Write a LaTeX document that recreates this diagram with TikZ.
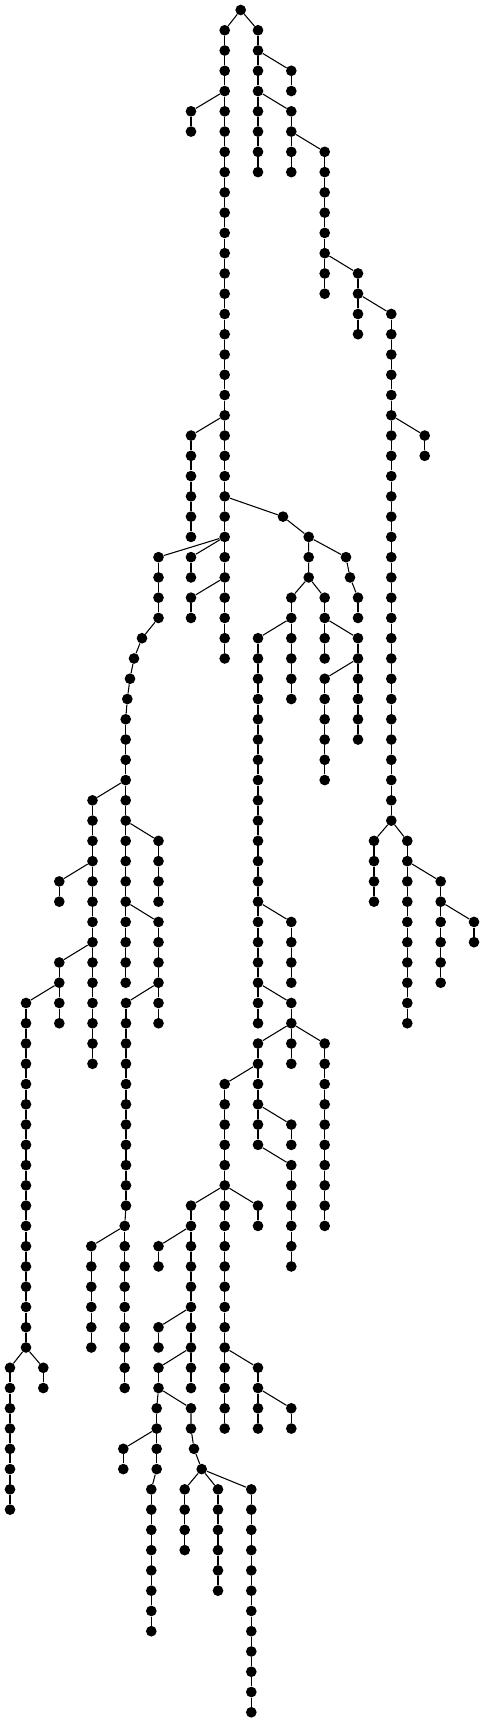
\documentclass[tikz,border=0pt]{standalone}
\usepackage{xcolor}
\usepackage{tikz}

\tikzset{
  tnode/.style={circle,fill=black,inner sep=0pt,minimum size=8pt},
  tedge/.style={line width=0.8pt}
}
% row number -> y
\newcommand{\ry}[1]{10+20.265*#1}
% vertical run of nodes #1-#3 ... #1-#4 at x=#2
\newcommand{\tchain}[4]{%
  \foreach \r in {#3,...,#4}{\node[tnode] (#1-\r) at (#2,{\ry{\r}}) {};}
  \foreach \r in {#3,...,#4}{\ifnum\r>#3\relax\pgfmathtruncatemacro{\q}{\r-1}\draw[tedge] (#1-\q) -- (#1-\r);\fi}
}

\begin{document}
\begin{tikzpicture}[x=0.75pt,y=0.75pt,yscale=-1,xscale=1]
\useasboundingbox (0,0) rectangle (484,1723);

%Root
\node[tnode] (root) at (240.7,10) {};

%Main stem
\tchain{m}{224.7}{1}{32}
\draw[tedge] (root) -- (m-1);
\tchain{la}{191}{5}{6}
\draw[tedge] (m-4) -- (la-5);
\tchain{lb}{191}{21}{26}
\draw[tedge] (m-20) -- (lb-21);
\tchain{lc}{191}{27}{28}
\draw[tedge] (m-26) -- (lc-27);
\tchain{ld}{191}{29}{30}
\draw[tedge] (m-28) -- (ld-29);

%Right stem
\tchain{ta}{258}{1}{8}
\draw[tedge] (root) -- (ta-1);
\tchain{tb}{291.3}{3}{4}
\draw[tedge] (ta-2) -- (tb-3);
\tchain{tc}{291.3}{5}{8}
\draw[tedge] (ta-4) -- (tc-5);
\tchain{td}{324.7}{7}{14}
\draw[tedge] (tc-6) -- (td-7);
\tchain{te}{358}{13}{16}
\draw[tedge] (td-12) -- (te-13);
\tchain{tf}{391.3}{15}{40}
\draw[tedge] (te-14) -- (tf-15);
\tchain{tg}{424.7}{21}{22}
\draw[tedge] (tf-20) -- (tg-21);
\tchain{th}{374}{41}{44}
\draw[tedge] (tf-40) -- (th-41);
\tchain{ti}{407.3}{41}{50}
\draw[tedge] (tf-40) -- (ti-41);
\tchain{tj}{440.7}{43}{48}
\draw[tedge] (ti-42) -- (tj-43);
\tchain{tk}{474}{45}{46}
\draw[tedge] (tj-44) -- (tk-45);

%Middle subtree
\node[tnode] (ra) at (283,{\ry{25}}) {};
\node[tnode] (rb) at (308.7,{\ry{26}}) {};
\node[tnode] (rc) at (308.7,{\ry{27}}) {};
\node[tnode] (rd) at (308.7,{\ry{28}}) {};
\node[tnode] (re) at (346,{\ry{27}}) {};
\node[tnode] (rf) at (350,{\ry{28}}) {};
\draw[tedge] (m-24) -- (ra) -- (rb) -- (rc) -- (rd);
\draw[tedge] (rb) -- (re) -- (rf);

\tchain{sa}{291.3}{29}{34}
\draw[tedge] (rd) -- (sa-29);
\tchain{sb}{324.7}{29}{32}
\draw[tedge] (rd) -- (sb-29);
\tchain{sc}{358}{29}{30}
\draw[tedge] (rf) -- (sc-29);
\tchain{sd}{258}{31}{50}
\draw[tedge] (sa-30) -- (sd-31);
\tchain{se}{358}{31}{36}
\draw[tedge] (sb-30) -- (se-31);
\tchain{sf}{324.7}{33}{38}
\draw[tedge] (se-32) -- (sf-33);
\tchain{sg}{291.3}{45}{48}
\draw[tedge] (sd-44) -- (sg-45);
\tchain{sh}{291.3}{49}{50}
\draw[tedge] (sd-48) -- (sh-49);
\tchain{si}{258}{51}{56}
\draw[tedge] (sh-50) -- (si-51);
\tchain{sj}{291.3}{51}{52}
\draw[tedge] (sh-50) -- (sj-51);
\tchain{sk}{324.7}{51}{60}
\draw[tedge] (sh-50) -- (sk-51);
\tchain{sl}{224.7}{53}{70}
\draw[tedge] (si-52) -- (sl-53);
\tchain{sm}{291.3}{55}{56}
\draw[tedge] (si-54) -- (sm-55);
\tchain{sn}{291.3}{57}{62}
\draw[tedge] (si-56) -- (sn-57);
\tchain{so}{191}{59}{68}
\draw[tedge] (sl-58) -- (so-59);
\tchain{sp}{258}{59}{60}
\draw[tedge] (sl-58) -- (sp-59);
\tchain{sq}{258}{67}{70}
\draw[tedge] (sl-66) -- (sq-67);
\tchain{sr}{291.3}{69}{70}
\draw[tedge] (sq-68) -- (sr-69);
\tchain{ss}{158.5}{61}{62}
\draw[tedge] (so-60) -- (ss-61);
\tchain{st}{158.5}{65}{66}
\draw[tedge] (so-64) -- (st-65);
\tchain{su}{158.5}{67}{68}
\draw[tedge] (so-66) -- (su-67);
\tchain{sv}{156.7}{69}{72}
\draw[tedge] (su-68) -- (sv-69);
\tchain{sw}{151.3}{73}{80}
\draw[tedge] (sv-72) -- (sw-73);
\tchain{sy}{123.3}{71}{72}
\draw[tedge] (sv-70) -- (sy-71);
\node[tnode] (sx-69) at (191,{\ry{69}}) {};
\node[tnode] (sx-70) at (191,{\ry{70}}) {};
\node[tnode] (sx-71) at (194,{\ry{71}}) {};
\node[tnode] (sx-72) at (201.7,{\ry{72}}) {};
\draw[tedge] (su-68) -- (sx-69) -- (sx-70) -- (sx-71) -- (sx-72);
\tchain{ua}{184.7}{73}{76}
\draw[tedge] (sx-72) -- (ua-73);
\tchain{ub}{218}{73}{78}
\draw[tedge] (sx-72) -- (ub-73);
\tchain{uc}{251.3}{73}{84}
\draw[tedge] (sx-72) -- (uc-73);

%Left subtree
\tchain{k}{158.5}{27}{30}
\draw[tedge] (m-26) -- (k-27);
\node[tnode] (k-31) at (142,{\ry{31}}) {};
\node[tnode] (k-32) at (134,{\ry{32}}) {};
\node[tnode] (k-33) at (130,{\ry{33}}) {};
\node[tnode] (k-34) at (127.3,{\ry{34}}) {};
\tchain{k}{125.7}{35}{48}
\draw[tedge] (k-30) -- (k-31) -- (k-32) -- (k-33) -- (k-34) -- (k-35);
\tchain{kd}{92.5}{39}{52}
\draw[tedge] (k-38) -- (kd-39);
\tchain{ke}{158.5}{41}{44}
\draw[tedge] (k-40) -- (ke-41);
\tchain{kf}{158.5}{45}{50}
\draw[tedge] (k-44) -- (kf-45);
\tchain{kg}{59.3}{43}{44}
\draw[tedge] (kd-42) -- (kg-43);
\tchain{kh}{59.3}{47}{50}
\draw[tedge] (kd-46) -- (kh-47);
\tchain{ki}{26}{49}{66}
\draw[tedge] (kh-48) -- (ki-49);
\tchain{kj}{126}{49}{59}
\tchain{kj}{124.7}{60}{68}
\draw[tedge] (kj-59) -- (kj-60);
\draw[tedge] (kf-48) -- (kj-49);
\tchain{kk}{91.3}{61}{66}
\draw[tedge] (kj-60) -- (kk-61);
\tchain{kl}{10}{67}{74}
\draw[tedge] (ki-66) -- (kl-67);
\tchain{km}{43.3}{67}{68}
\draw[tedge] (ki-66) -- (km-67);

\end{tikzpicture}
\end{document}
